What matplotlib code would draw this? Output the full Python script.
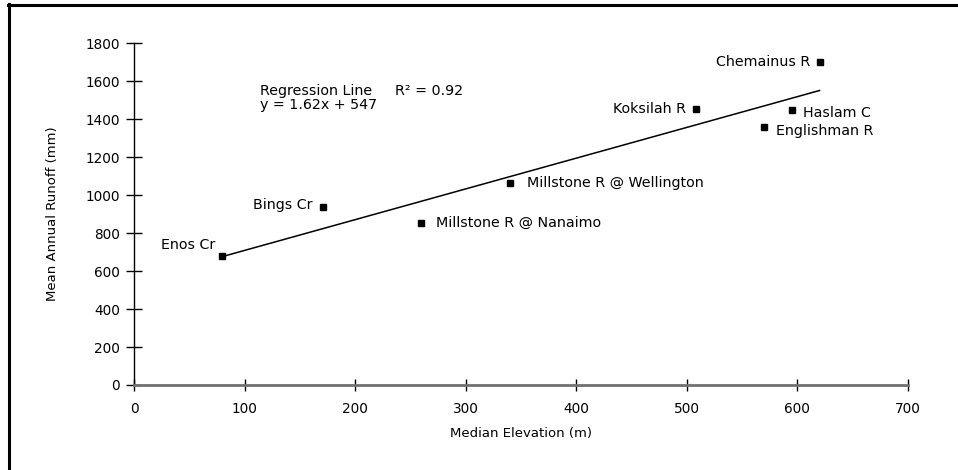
import matplotlib
matplotlib.use("Agg")
import matplotlib.pyplot as plt
from matplotlib.lines import Line2D
import numpy as np

# Data
stations = ["Enos Cr", "Bings Cr", "Millstone R @ Nanaimo", "Millstone R @ Wellington",
            "Koksilah R", "Englishman R", "Haslam C", "Chemainus R"]
elevation = [80, 171, 260, 340, 508, 570, 595, 620]
runoff = [678, 938, 852, 1066, 1455, 1357, 1447, 1700]
slope = 1.62
intercept = 547
r2 = 0.92
line_x = [80, 620]

# label offsets in pixels and alignment
offsets = {
    "Enos Cr": (-7, 11, "right"),
    "Bings Cr": (-11, 2, "right"),
    "Millstone R @ Nanaimo": (15, 0, "left"),
    "Millstone R @ Wellington": (17, 0, "left"),
    "Koksilah R": (-10, 0, "right"),
    "Englishman R": (12, -4, "left"),
    "Haslam C": (11, -3, "left"),
    "Chemainus R": (-9, 0, "right"),
}

plt.rcParams['font.family'] = ['DejaVu Sans']
fig = plt.figure(figsize=(9.58, 4.70), dpi=100)
W, H = 958, 470
ax = fig.add_axes([134 / W, 1 - 385 / H, 774 / W, (385 - 43.3) / H])

ax.set_xlim(0, 700)
ax.set_ylim(0, 1800)

FS = 10.3

lx = np.array(line_x, dtype=float)
ax.plot(lx, slope * lx + intercept, color='black', lw=1.1, zorder=2)
ax.plot(elevation, runoff, linestyle='none', marker='s', color='black', markersize=4, zorder=3)

for name, x, y in zip(stations, elevation, runoff):
    dx, dy, ha = offsets[name]
    ax.annotate(name, (x, y), xytext=(dx, dy), textcoords='offset pixels',
                ha=ha, va='center', fontsize=FS)

ax.text(0.163, 0.859, "Regression Line", transform=ax.transAxes, fontsize=FS, va='center', ha='left')
ax.text(0.337, 0.859, f"R\u00b2 = {r2:.2f}", transform=ax.transAxes, fontsize=FS, va='center', ha='left')
ax.text(0.163, 0.818, f"y = {slope:.2f}x + {intercept}", transform=ax.transAxes, fontsize=FS,
        va='center', ha='left')

for s in ['top', 'right']:
    ax.spines[s].set_visible(False)
ax.spines['left'].set_color('black')
ax.spines['left'].set_linewidth(1.0)
ax.spines['bottom'].set_color('#707070')
ax.spines['bottom'].set_linewidth(2.0)
ax.spines['left'].set_zorder(1)

ax.set_xticks(range(0, 701, 100))
ax.set_yticks(range(0, 1801, 200))
ax.tick_params(axis='y', direction='inout', length=12, width=1, colors='black', labelsize=9.8, pad=4)
ax.tick_params(axis='x', direction='inout', length=9, width=1, colors='black', labelsize=9.8, pad=8)
ax.tick_params(axis='both', labelcolor='black')

ax.set_xlabel("Median Elevation (m)", fontsize=9.5, labelpad=8)
ax.set_ylabel("Mean Annual Runoff (mm)", fontsize=9.5, labelpad=19)

# outer frame (top and left edges)
fig.add_artist(Line2D([8.5 / W, 8.5 / W], [0, 1 - 4 / H], color='black', lw=2.2,
                      transform=fig.transFigure))
fig.add_artist(Line2D([7.5 / W, 1], [1 - 5 / H, 1 - 5 / H], color='black', lw=2.2,
                      transform=fig.transFigure))

fig.savefig("out.png", dpi=100)
